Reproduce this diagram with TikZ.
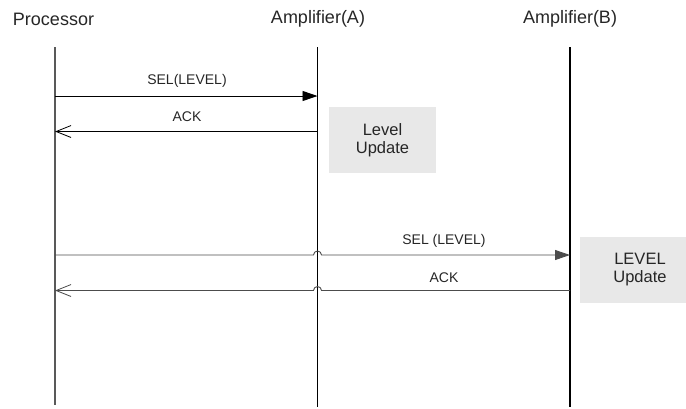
\documentclass[tikz,border=0pt]{standalone}
\usepackage{fontspec}
\setmainfont{Liberation Sans}
\usetikzlibrary{arrows.meta}
\begin{document}
\begin{tikzpicture}[x=1pt,y=-1pt,
  title/.style={font=\fontsize{18}{20}\selectfont, text=black!85, inner sep=0pt},
  msglabel/.style={font=\fontsize{14}{16}\selectfont, text=black!85, inner sep=0pt},
  lifeline/.style={line width=1.2pt},
  msg/.style={line width=0.9pt},
  callhead/.style={-{Triangle[length=15pt,width=10pt]}},
  replyhead/.style={-{Straight Barb[length=15pt,width=12pt,line width=0.8pt]}},
  updbox/.style={fill=black!9, draw=none, align=center, text=black!85,
                 font=\fontsize{16.5}{18}\selectfont}]
  \useasboundingbox (0,0) rectangle (686,408);

  % participants
  \node[title] (proc) at (53.5,19) {Processor};
  \node[title] (ampA) at (318,19) {Amplifier(A)};
  \node[title] (ampB) at (570,19) {Amplifier(B)};

  % lifelines
  \coordinate (procTop) at (55,47);   \coordinate (procBot) at (55,405);
  \coordinate (aTop) at (317.5,47);   \coordinate (aBot) at (317.5,407);
  \coordinate (bTop) at (570,47);     \coordinate (bBot) at (570,407);
  \draw[lifeline, black!65] (procTop) -- (procBot);
  \draw[lifeline] (aTop) -- (aBot);
  \draw[lifeline] (bTop) -- (bBot);

  % exchange with Amplifier(A)
  \coordinate (sel1P) at (procTop |- 0,96);
  \coordinate (sel1A) at (aTop |- 0,96);
  \coordinate (ack1P) at (procTop |- 0,131.5);
  \coordinate (ack1A) at (aTop |- 0,131.5);
  \draw[msg, callhead] (sel1P) -- (sel1A);
  \draw[msg, replyhead] (ack1A) -- (ack1P);
  \node[msglabel] (sel1lbl) at (187,80.5) {SEL(LEVEL)};
  \node[msglabel] (ack1lbl) at (187,117) {ACK};

  \node[updbox, minimum width=107pt, minimum height=66pt] (upd1) at (382.5,140) {Level\\Update};

  % exchange with Amplifier(B), hopping over the Amplifier(A) lifeline
  \coordinate (sel2P) at (procTop |- 0,255);
  \coordinate (sel2B) at (bTop |- 0,255);
  \coordinate (ack2P) at (procTop |- 0,290.5);
  \coordinate (ack2B) at (bTop |- 0,290.5);
  \draw[msg, black!70, callhead] (sel2P) -- ([xshift=-4pt]sel2P -| aTop)
        arc[start angle=180, end angle=0, radius=4pt] -- (sel2B);
  \draw[msg, black!70, replyhead] (ack2B) -- ([xshift=4pt]ack2B -| aTop)
        arc[start angle=0, end angle=180, radius=4pt] -- (ack2P);
  \node[msglabel] (sel2lbl) at (444,240.5) {SEL (LEVEL)};
  \node[msglabel] (ack2lbl) at (444,278) {ACK};

  % this box runs on past the right edge of the page
  \node[updbox, minimum width=120pt, minimum height=66pt] (upd2) at (640,269.5) {LEVEL\\Update};
\end{tikzpicture}
\end{document}
